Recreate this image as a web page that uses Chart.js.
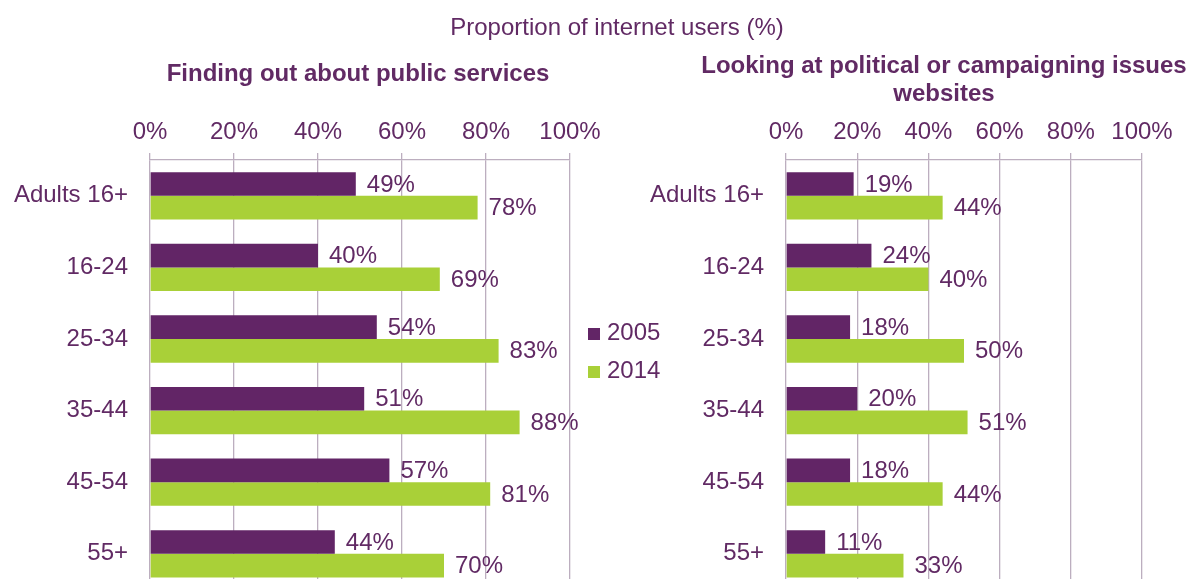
<!DOCTYPE html>
<html>
<head>
<meta charset="utf-8">
<script src="https://cdn.jsdelivr.net/npm/chart.js@4/dist/chart.umd.min.js"></script>
<style>
  html, body { margin:0; padding:0; width:1195px; height:579px; overflow:hidden; background:#fff; }
  body { position:relative; font-family:"Liberation Sans", Arial, sans-serif; color:#612a64; }
  .ttl { position:absolute; text-align:center; font-size:24px; line-height:28px; white-space:nowrap; }
  #overall { left:417px; width:400px; top:13px; }
  #t1 { left:158px; width:400px; top:59px; font-weight:bold; }
  #t2 { left:694px; width:500px; top:51px; font-weight:bold; }
  canvas { position:absolute; top:0; }
  #c1 { left:0; }
  #c2 { left:600px; }
  #legend { position:absolute; left:588px; top:313px; font-size:24px; line-height:38px; }
  .li { display:flex; align-items:center; }
  .sw { width:12px; height:12px; margin-right:7px; margin-top:3px; }
</style>
</head>
<body>
<canvas id="c1" width="630" height="618"></canvas>
<canvas id="c2" width="595" height="618"></canvas>
<div class="ttl" id="overall">Proportion of internet users (%)</div>
<div class="ttl" id="t1"></div>
<div class="ttl" id="t2"></div>
<div id="legend"></div>
<script>
const categories = ["Adults 16+", "16-24", "25-34", "35-44", "45-54", "55+"];
const seriesNames = ["2005", "2014"];
const publicServices2005 = [49, 40, 54, 51, 57, 44];
const publicServices2014 = [78, 69, 83, 88, 81, 70];
const political2005 = [19, 24, 18, 20, 18, 11];
const political2014 = [44, 40, 50, 51, 44, 33];
const tickValues = [0, 20, 40, 60, 80, 100];
const panelTitles = [["Finding out about public services"], ["Looking at political or campaigning issues", "websites"]];

const PURPLE = "#622566";
const GREEN = "#a9d038";
const TEXT = "#612a64";
const GRID = "#bcaebf";
const FONT = "'Liberation Sans', Arial, sans-serif";

const valueLabels = {
  id: "valueLabels",
  afterDatasetsDraw(chart) {
    const ctx = chart.ctx;
    ctx.save();
    ctx.font = "24px " + FONT;
    ctx.fillStyle = TEXT;
    ctx.textAlign = "left";
    ctx.textBaseline = "middle";
    chart.data.datasets.forEach((ds, i) => {
      const meta = chart.getDatasetMeta(i);
      meta.data.forEach((el, j) => {
        ctx.fillText(ds.data[j] + "%", el.x + 11, el.y + 1);
      });
    });
    ctx.restore();
  }
};

function makeChart(id, d2005, d2014, yWidth, padRight) {
  return new Chart(document.getElementById(id), {
    type: "bar",
    data: {
      labels: categories,
      datasets: [
        { label: seriesNames[0], data: d2005, backgroundColor: PURPLE, borderWidth: 0 },
        { label: seriesNames[1], data: d2014, backgroundColor: GREEN, borderWidth: 0 }
      ]
    },
    options: {
      indexAxis: "y",
      responsive: false,
      maintainAspectRatio: false,
      animation: false,
      devicePixelRatio: 1,
      categoryPercentage: 0.66,
      barPercentage: 1.0,
      layout: { padding: { left: 0, right: padRight, top: 0, bottom: 0 } },
      plugins: {
        legend: { display: false },
        tooltip: { enabled: false },
        title: { display: false }
      },
      scales: {
        x: {
          position: "top",
          min: 0,
          max: 100,
          afterBuildTicks(scale) { scale.ticks = tickValues.map(v => ({ value: v })); },
          afterFit(scale) { scale.height = 160; },
          ticks: {
            autoSkip: false,
            maxRotation: 0,
            padding: 6,
            color: TEXT,
            font: { family: FONT, size: 24 },
            callback: v => v + "%"
          },
          grid: { color: GRID, lineWidth: 1.3, tickLength: 7, drawTicks: true },
          border: { display: true, color: GRID, width: 1.3 }
        },
        y: {
          afterFit(scale) { scale.width = yWidth; },
          ticks: {
            padding: 14,
            color: TEXT,
            font: { family: FONT, size: 24 }
          },
          grid: { display: false },
          border: { display: false }
        }
      }
    },
    plugins: [valueLabels]
  });
}

makeChart("c1", publicServices2005, publicServices2014, 150, 60);
makeChart("c2", political2005, political2014, 186, 53);

document.getElementById("t1").innerHTML = panelTitles[0].join("<br>");
document.getElementById("t2").innerHTML = panelTitles[1].join("<br>");

const legend = document.getElementById("legend");
[[seriesNames[0], PURPLE], [seriesNames[1], GREEN]].forEach(([name, col]) => {
  const row = document.createElement("div");
  row.className = "li";
  const sw = document.createElement("span");
  sw.className = "sw";
  sw.style.background = col;
  const t = document.createElement("span");
  t.textContent = name;
  row.appendChild(sw);
  row.appendChild(t);
  legend.appendChild(row);
});
</script>
</body>
</html>
